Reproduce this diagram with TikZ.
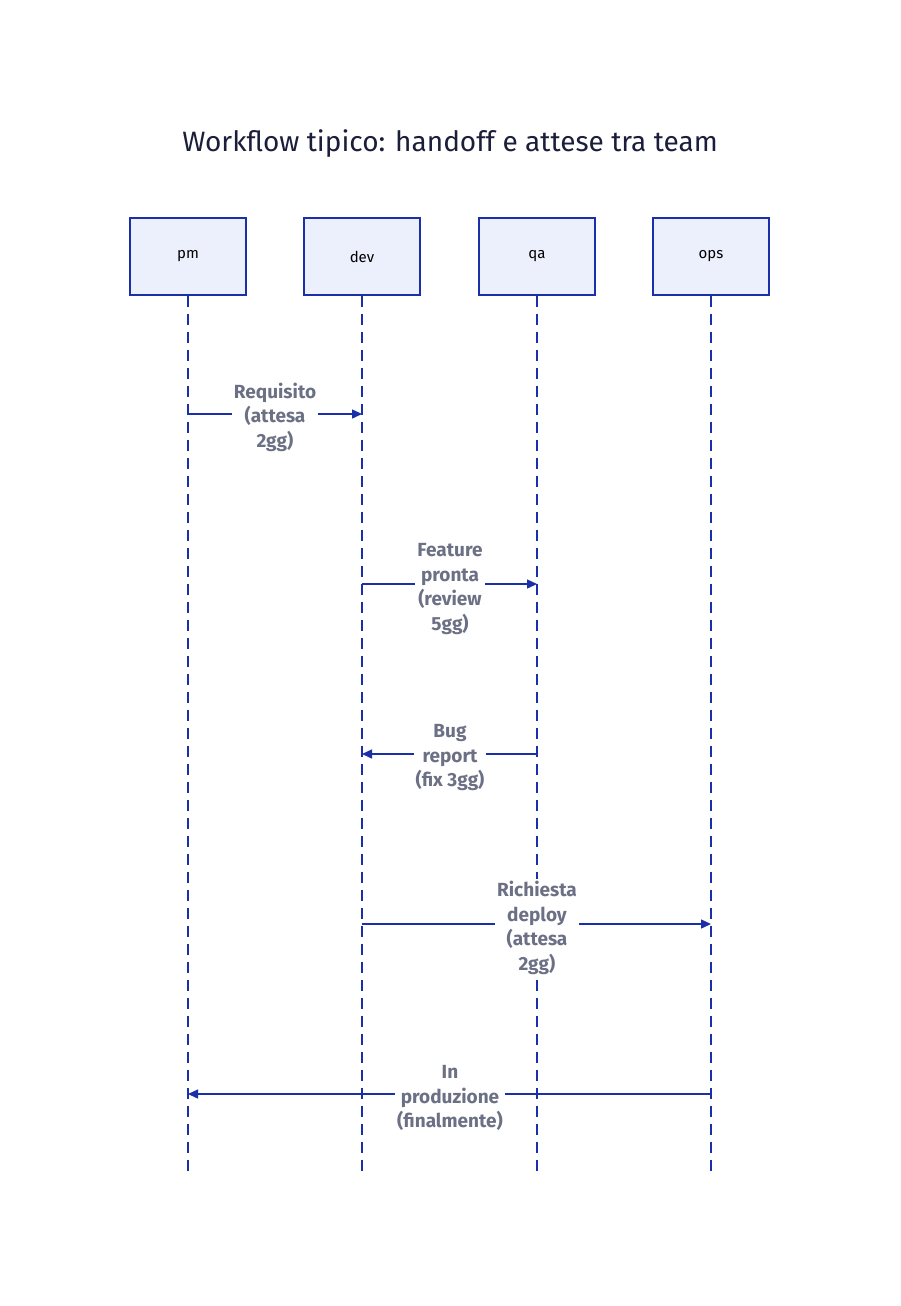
\documentclass[tikz,border=0pt]{standalone}
\usepackage{fontspec}
\setmainfont{Fira Sans}
\usetikzlibrary{arrows.meta}
\definecolor{ln}{HTML}{1A2FA8}
\definecolor{bx}{HTML}{ECEFFC}
\definecolor{lb}{HTML}{6B7085}
\definecolor{tt}{HTML}{1B1E3A}
\begin{document}
\begin{tikzpicture}[x=1pt,y=-1pt,
 actor/.style={draw=ln,fill=bx,line width=1.2pt,minimum width=116pt,minimum height=77pt,font=\fontsize{15}{18}\selectfont\addfontfeatures{Weight=Light}},
 life/.style={ln,line width=1.4pt,dash pattern=on 11pt off 7pt},
 msg/.style={ln,line width=1.4pt,-{Triangle[length=10pt,width=9pt]}},
 lab/.style={fill=white,text=lb,font=\fontsize{19}{24.5}\selectfont\bfseries,align=center,inner sep=2pt}]
\useasboundingbox (0,0) rectangle (900,1306);
\node[font=\fontsize{28}{34}\selectfont,text=tt] (title) at (450,144) {Workflow tipico: handoff e attese tra team};
\foreach \n/\x in {pm/188,dev/362,qa/537,ops/711}{
 \node[actor] (\n) at (\x,256.5) {\n};
 \coordinate (\n e) at (\x,1172);
 \draw[life] (\n.south) -- (\n e);
 \foreach \k/\y in {1/414,2/584,3/754,4/924,5/1094}{\coordinate (\n\k) at (\x,\y);}
}
\draw[msg] (pm1) -- (dev1);
\node[lab] (l1) at (275,417) {Requisito\\(attesa\\2gg)};
\draw[msg] (dev2) -- (qa2);
\node[lab] (l2) at (450,589) {Feature\\pronta\\(review\\5gg)};
\draw[msg] (qa3) -- (dev3);
\node[lab] (l3) at (450,758) {Bug\\report\\(fix 3gg)};
\draw[msg] (dev4) -- (ops4);
\node[lab] (l4) at (537,928) {Richiesta\\deploy\\(attesa\\2gg)};
\draw[msg] (ops5) -- (pm5);
\node[lab] (l5) at (450,1098) {In\\produzione\\(finalmente)};
\end{tikzpicture}
\end{document}
